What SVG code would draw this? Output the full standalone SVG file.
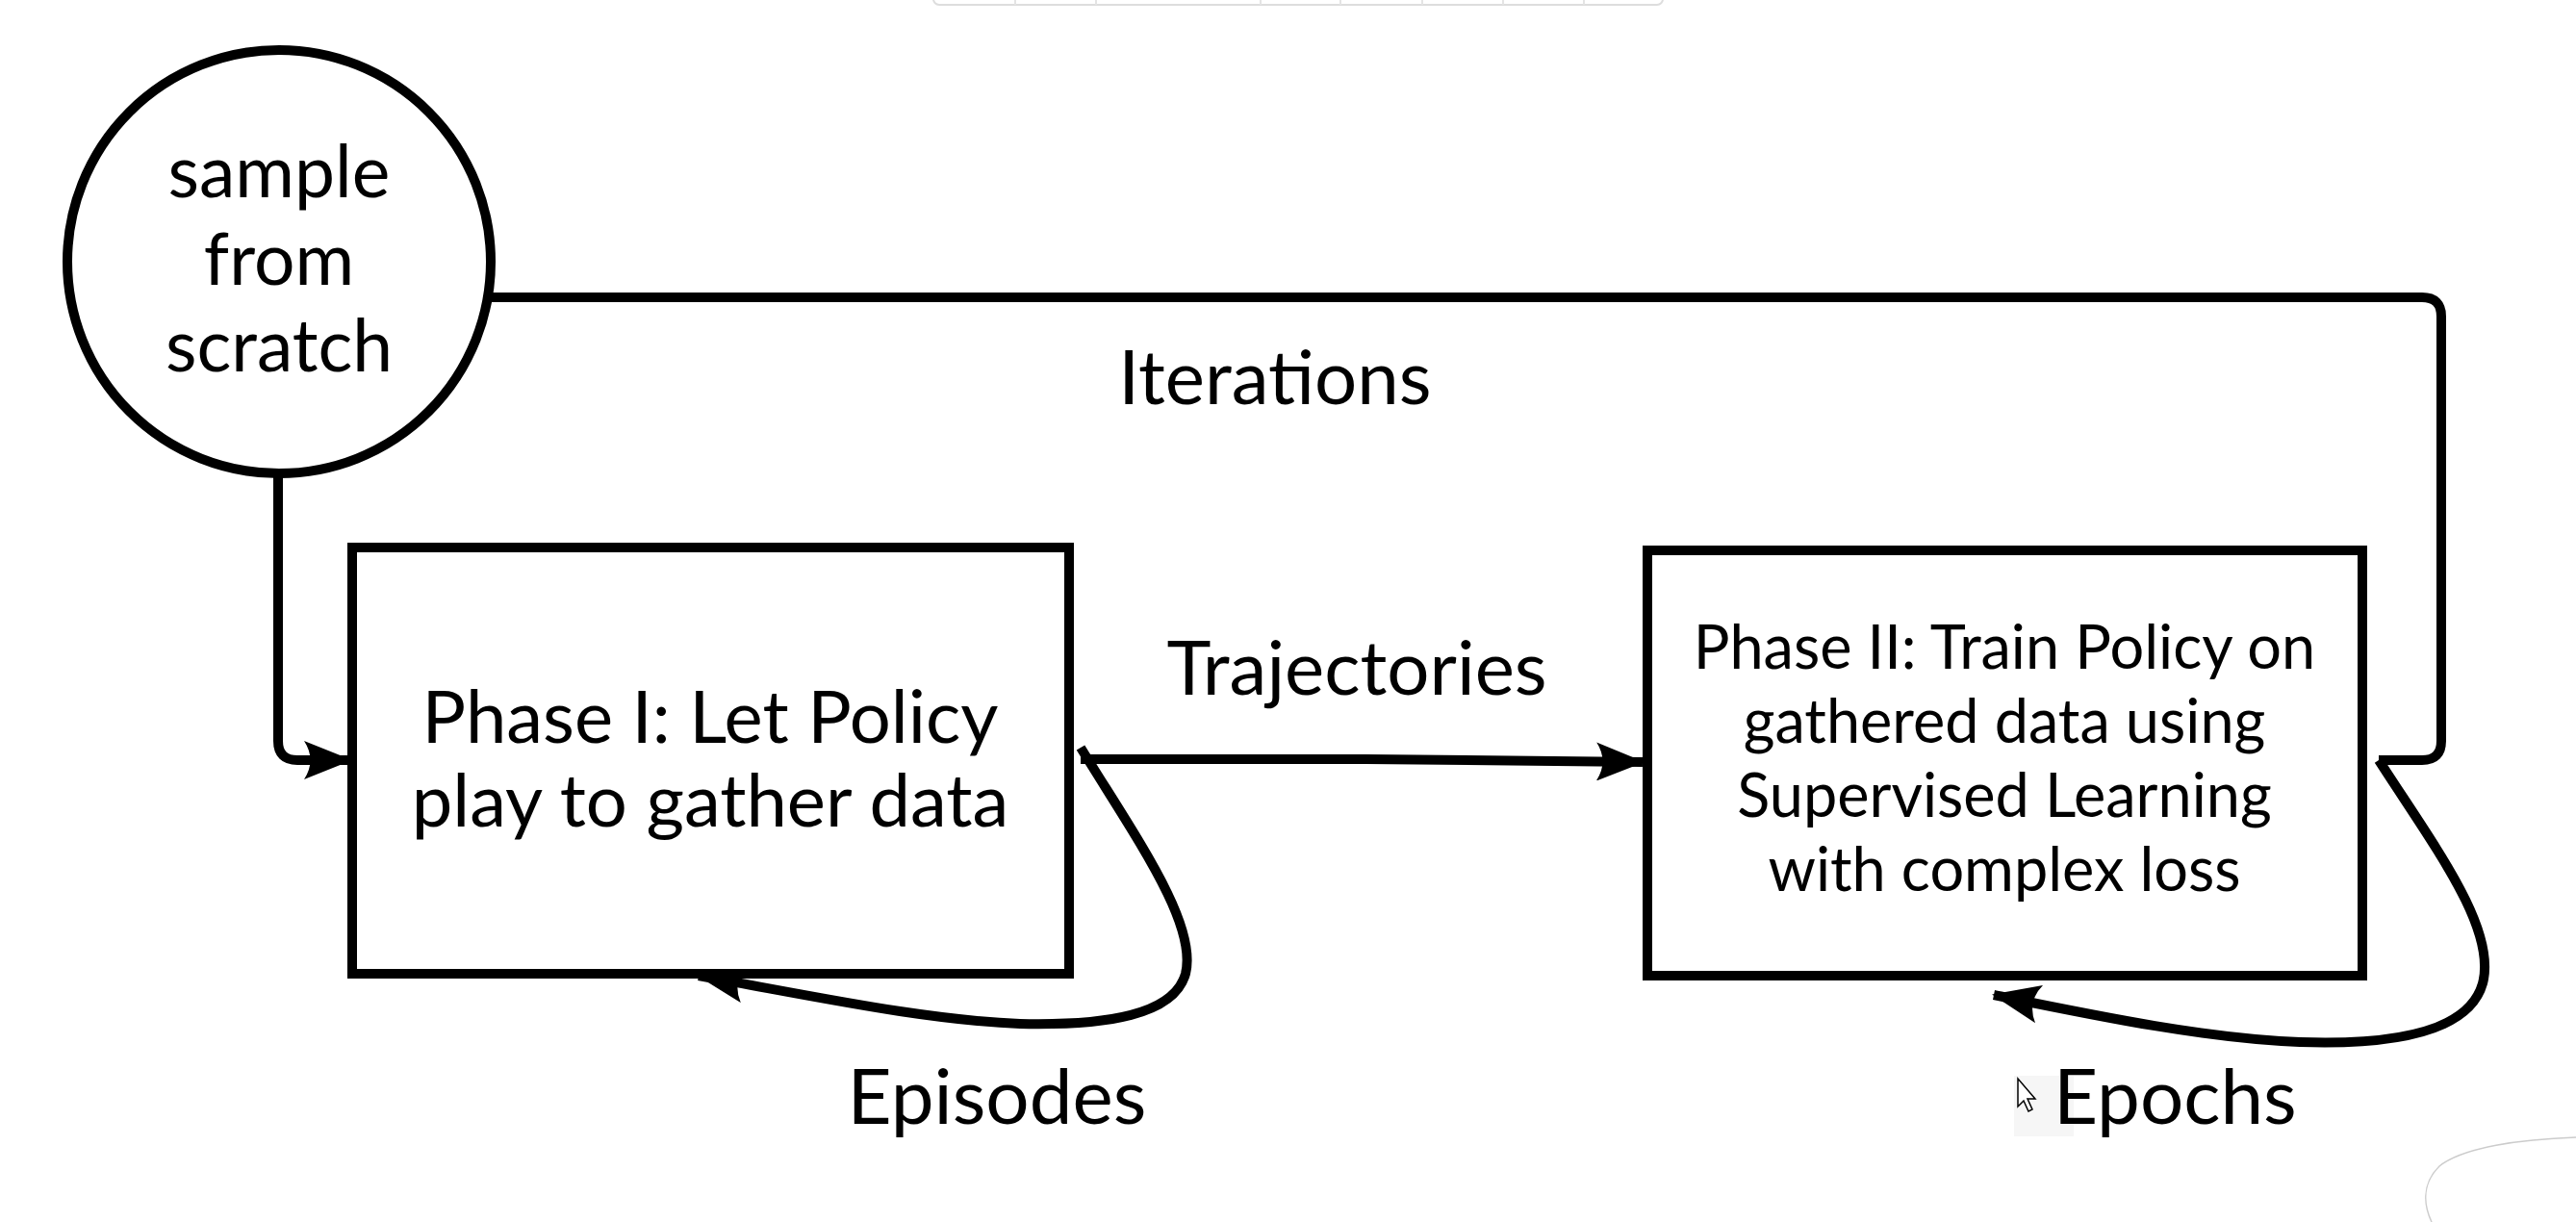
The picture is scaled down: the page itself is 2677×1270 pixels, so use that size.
<svg xmlns="http://www.w3.org/2000/svg" width="2677" height="1270" viewBox="0 0 2677 1270">
<style>
.t{font-family:Lato,"Liberation Sans",sans-serif;fill:#000;text-anchor:middle}
.shape{fill:#fff;stroke:#000;stroke-width:10}
.edge{fill:none;stroke:#000;stroke-width:10;stroke-linejoin:round}
</style>
<defs>
<marker id="arr" viewBox="0 0 50 40" refX="48" refY="20" markerWidth="50" markerHeight="40" markerUnits="userSpaceOnUse" orient="auto">
<path d="M50,20 L0,0 Q13,20 0,40 Z" fill="#000"/>
</marker>
</defs>
<rect width="2677" height="1270" fill="#fff"/>
<g id="toolbar">
<rect x="970" y="-12" width="758" height="17" rx="6" fill="#fff" stroke="#ddd" stroke-width="2"/>
<path d="M1055,-2V5M1139,-2V5M1310,-2V5M1393,-2V5M1478,-2V5M1562,-2V5M1646,-2V5" stroke="#e4e4e4" stroke-width="2"/>
</g>
<path d="M2677,1182 C2620,1184 2560,1192 2535,1212 C2515,1232 2520,1255 2527,1270" fill="none" stroke="#ccc" stroke-width="1.5"/>
<g id="connectors">
<path class="edge" d="M510,309 L2517,309 Q2537,309 2537,329 L2537,770 Q2537,790 2517,790 L2472,790"/>
<path class="edge" d="M289,495 L289,770 Q289,790 309,790 L364,790" marker-end="url(#arr)"/>
<path class="edge" d="M1123,789 L1420,789 L1707,792" marker-end="url(#arr)"/>
<path class="edge" d="M1123,777 C1180,870 1245,960 1232,1012 C1220,1055 1150,1066 1060,1064 C960,1060 850,1036 726,1014" marker-end="url(#arr)"/>
<path class="edge" d="M2472,790 C2530,880 2595,965 2580,1022 C2565,1075 2480,1086 2390,1083 C2290,1079 2180,1056 2072,1034" marker-end="url(#arr)"/>
</g>
<g id="n-sample">
<circle class="shape" cx="290" cy="272" r="220"/>
<text class="t" x="290" y="205" font-size="75">sample</text>
<text class="t" x="290" y="296" font-size="75">from</text>
<text class="t" x="290" y="386" font-size="75">scratch</text>
</g>
<g id="n-phase1">
<rect class="shape" x="366" y="569" width="745" height="443"/>
<text class="t" x="738" y="772" font-size="76">Phase I: Let Policy</text>
<text class="t" x="738" y="859" font-size="76">play to gather data</text>
</g>
<g id="n-phase2">
<rect class="shape" x="1712" y="572" width="743" height="442"/>
<text class="t" x="2083" y="695" font-size="63">Phase II: Train Policy on</text>
<text class="t" x="2083" y="772" font-size="63">gathered data using</text>
<text class="t" x="2083" y="849" font-size="63">Supervised Learning</text>
<text class="t" x="2083" y="926" font-size="63">with complex loss</text>
</g>
<g id="labels">
<text class="t" x="1325" y="420" font-size="78">Iterations</text>
<text class="t" x="1410" y="722" font-size="78">Trajectories</text>
<text class="t" x="1036" y="1168" font-size="80">Episodes</text>
</g>
<g id="cursor">
<rect x="2093" y="1118" width="62" height="63" fill="#f6f6f6"/>
<path d="M2097,1121 L2097,1150 L2103,1144 L2108,1155 L2112,1153 L2107,1142 L2115,1142 Z" fill="#fff" stroke="#000" stroke-width="1.5"/>
</g>
<text class="t" x="2134" y="1168" font-size="80" style="text-anchor:start">Epochs</text>
</svg>
